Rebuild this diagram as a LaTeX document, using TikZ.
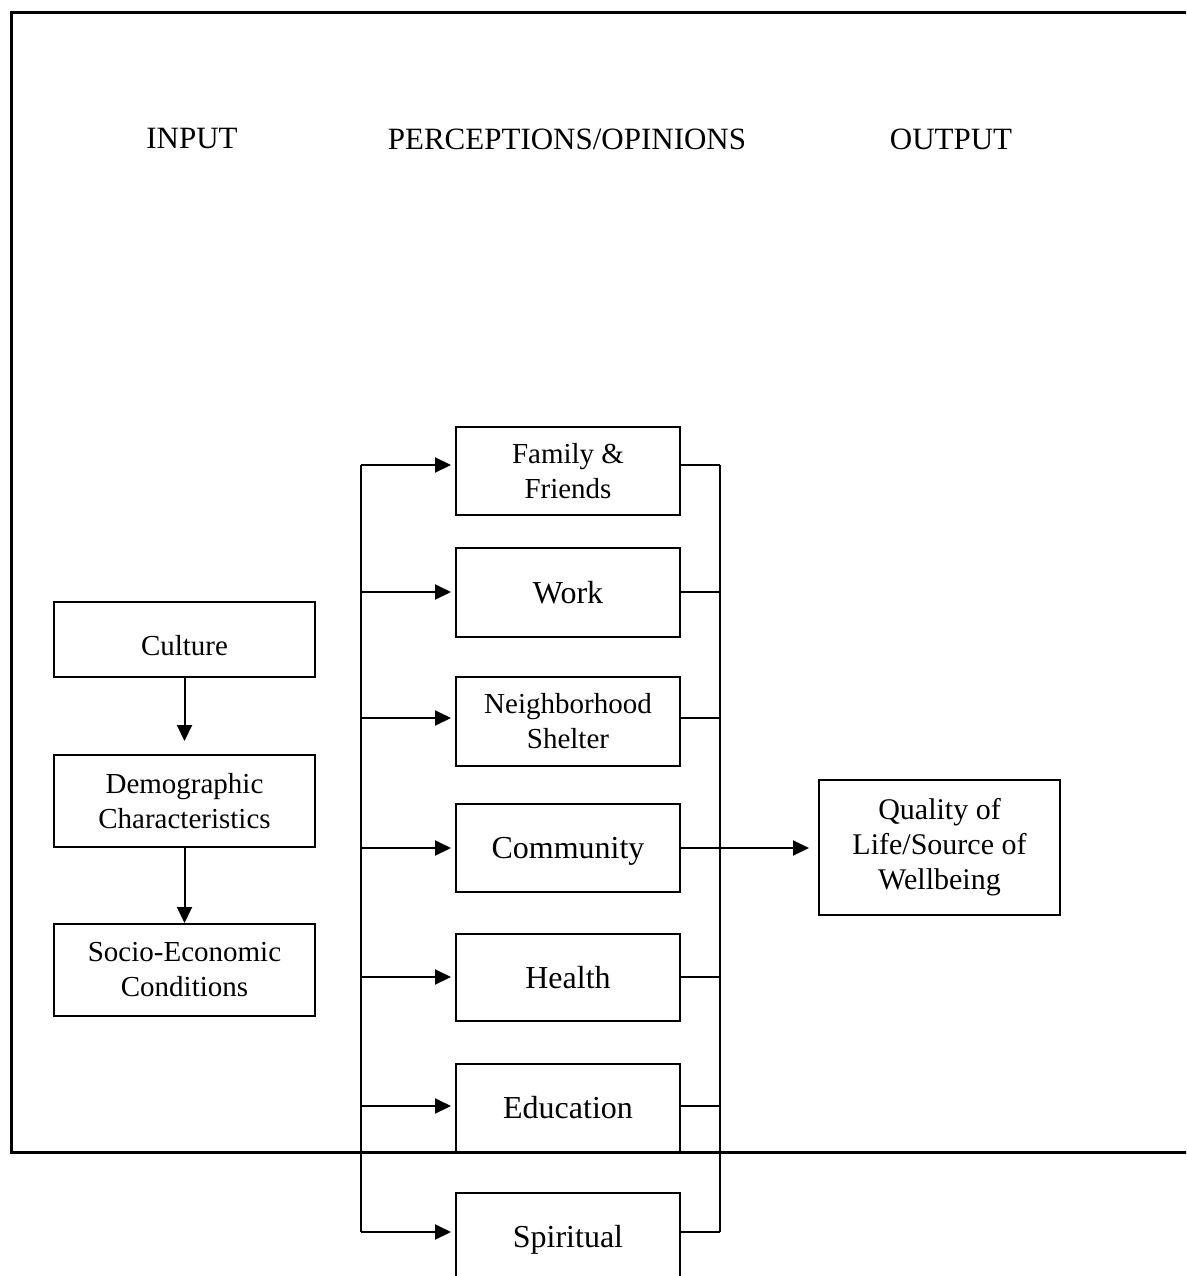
\documentclass[tikz,border=0pt]{standalone}
\usepackage{fontspec}
\setmainfont{Liberation Serif}
\usetikzlibrary{arrows.meta}
\begin{document}
\begin{tikzpicture}[x=1pt,y=-1pt,
  sbox/.style={draw=black,line width=2pt,inner sep=0pt,minimum width=224pt,minimum height=88pt},
  box/.style={sbox,align=center},
  lbox/.style={box,minimum width=261pt,minimum height=92pt},
  one/.style={align=,text height=21pt,text depth=0pt},
  small/.style={font=\fontsize{29}{35}\selectfont},
  big/.style={font=\fontsize{32}{38}\selectfont},
  head/.style={font=\fontsize{31}{36}\selectfont,inner sep=0pt},
  arr/.style={line width=2pt,-{Triangle[length=16pt,width=15pt]}},
  link/.style={line width=1.6pt}]
\useasboundingbox (0,0) rectangle (1186,1276);
\clip (0,0) rectangle (1186,1276);
% frame
\draw[line width=3pt] (1190,13) -- (11,13) -- (11,1152) -- (1190,1152);
% headers
\node[head] (hin) at (192,139) {INPUT};
\node[head] (hper) at (567,139) {PERCEPTIONS/OPINIONS};
\node[head] (hout) at (951,139) {OUTPUT};
% left boxes
\node[sbox,small,minimum width=261pt,minimum height=75pt,text height=31pt,text depth=0pt] (cult) at (184.5,639.5) {Culture};
\node[lbox,small] (demo) at (184.5,801) {Demographic\\Characteristics};
\node[lbox,small] (socio) at (184.5,970) {Socio-Economic\\Conditions};
\draw[arr,shorten >=13pt] (cult.south) -- (demo.north);
\draw[arr] (demo.south) -- (socio.north);
% middle boxes
\node[box,small] (fam) at (568,471) {Family \&\\Friends};
\node[sbox,big,text height=21pt,text depth=0pt,minimum height=89pt] (work) at (568,592.5) {Work};
\node[box,small,minimum height=89pt] (nbh) at (568,721.5) {Neighborhood\\Shelter};
\node[sbox,big,text height=21pt,text depth=0pt] (comm) at (568,848) {Community};
\node[sbox,big,text height=21pt,text depth=0pt,minimum height=87pt] (health) at (568,977.5) {Health};
\node[sbox,big,text height=21pt,text depth=0pt] (edu) at (568,1108) {Education};
\node[sbox,big,text height=21pt,text depth=0pt] (spir) at (568,1237) {Spiritual};
% output box
\node[box,font=\fontsize{30}{35}\selectfont,minimum width=241pt,minimum height=135pt] (qol) at (939.5,847.5) {Quality of\\Life/Source of\\Wellbeing};
% left bus
\coordinate (l1) at (361,465);
\coordinate (l2) at (361,592);
\coordinate (l3) at (361,718);
\coordinate (l4) at (361,848);
\coordinate (l5) at (361,977);
\coordinate (l6) at (361,1106);
\coordinate (l7) at (361,1232);
\draw[line width=2pt] (l1) -- (l7);
\foreach \c/\b in {l1/fam,l2/work,l3/nbh,l4/comm,l5/health,l6/edu,l7/spir}
  \draw[arr,shorten >=4pt] (\c) -- (\b.west |- \c);
% right bus
\coordinate (r1) at (720,465);
\coordinate (r2) at (720,592);
\coordinate (r3) at (720,718);
\coordinate (r4) at (720,848);
\coordinate (r5) at (720,977);
\coordinate (r6) at (720,1106);
\coordinate (r7) at (720,1232);
\draw[line width=2pt] (r1) -- (r7);
\foreach \c/\b in {r1/fam,r2/work,r3/nbh,r4/comm,r5/health,r6/edu,r7/spir}
  \draw[link] (\b.east |- \c) -- (\c);
\draw[arr,shorten >=9pt] (r4) -- (qol.west |- r4);
\end{tikzpicture}
\end{document}
